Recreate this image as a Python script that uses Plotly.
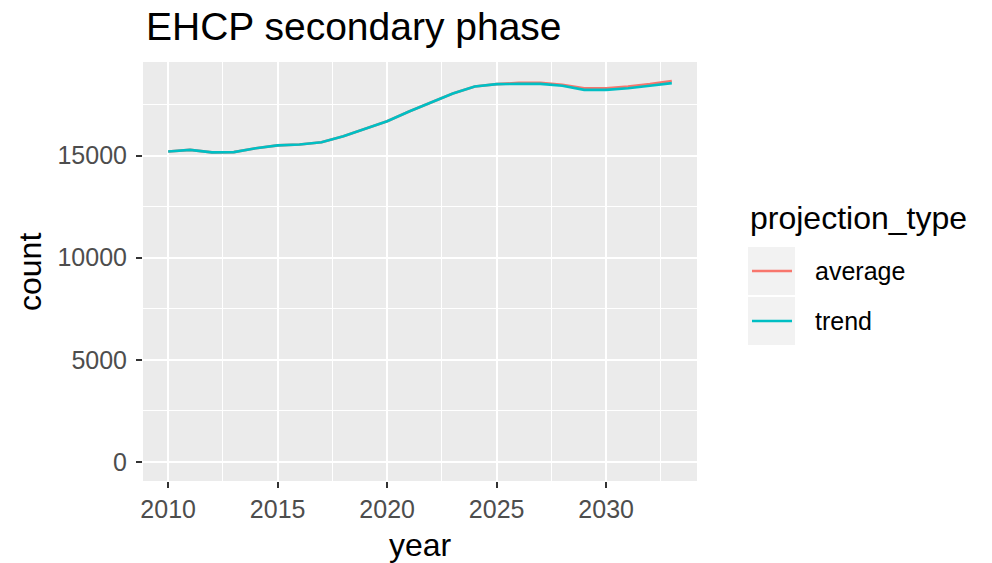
import plotly.graph_objects as go

# EHCP counts, secondary phase, by projection type
years = list(range(2010, 2034))
trend = [15200, 15280, 15160, 15170, 15360, 15500, 15540, 15650, 15950, 16310,
         16680, 17160, 17600, 18040, 18380, 18500, 18510, 18510, 18420, 18220,
         18220, 18300, 18420, 18550]
average = [15200, 15280, 15160, 15170, 15360, 15500, 15540, 15650, 15950, 16310,
           16680, 17160, 17600, 18040, 18380, 18500, 18560, 18570, 18470, 18290,
           18300, 18380, 18500, 18650]

series_names = ["average", "trend"]
series_values = [average, trend]
series_colors = ["#F8766D", "#00BFC4"]

x_ticks = [2010, 2015, 2020, 2025, 2030]
y_ticks = [0, 5000, 10000, 15000]

FONT = "Liberation Sans, Arial, sans-serif"
W, H = 992, 563
L, R, T, B = 143, 295, 62, 82

fig = go.Figure()
for name, vals, col in zip(series_names, series_values, series_colors):
    fig.add_trace(go.Scatter(x=years, y=vals, mode="lines", name=name,
                             line=dict(color=col, width=2.6), showlegend=False))

# ggplot-style 5% expansion of the data range
xspan = years[-1] - years[0]
xr = [years[0] - 0.05 * xspan, years[-1] + 0.05 * xspan]
ymax = max(max(v) for v in series_values)
yr = [-0.05 * ymax, ymax * 1.05]

axis_common = dict(
    showgrid=True, gridcolor="white", gridwidth=2,
    zeroline=False, showline=False,
    ticks="outside", ticklen=6, tickwidth=1.6, tickcolor="#333333",
    tickfont=dict(family=FONT, size=25, color="#4D4D4D"),
)
fig.update_xaxes(range=xr, tickvals=x_ticks, ticktext=[str(t) for t in x_ticks],
                 minor=dict(dtick=2.5, tick0=2007.5, gridcolor="white", gridwidth=1, ticks=""),
                 ticklabelstandoff=0, **axis_common)
fig.update_yaxes(range=yr, tickvals=y_ticks, ticktext=[str(t) for t in y_ticks],
                 minor=dict(dtick=2500, tick0=-2500, gridcolor="white", gridwidth=1, ticks=""),
                 ticklabelstandoff=4, **axis_common)

pw, ph = W - L - R, H - T - B
def px_x(px):
    return (px - L) / pw
def px_y(py):
    return 1 - (py - T) / ph

annotations = [
    dict(text="EHCP secondary phase", xref="paper", yref="paper",
         x=px_x(144), y=px_y(27), xanchor="left", yanchor="middle", showarrow=False,
         font=dict(family=FONT, size=39, color="black")),
    dict(text="year", xref="paper", yref="paper", x=0.5, y=px_y(545),
         xanchor="center", yanchor="middle", showarrow=False,
         font=dict(family=FONT, size=32, color="black")),
    dict(text="count", xref="paper", yref="paper", x=px_x(30), y=px_y(272),
         textangle=-90, xanchor="center", yanchor="middle", showarrow=False,
         font=dict(family=FONT, size=32, color="black")),
    dict(text="projection_type", xref="paper", yref="paper",
         x=px_x(748), y=px_y(218), xanchor="left", yanchor="middle", showarrow=False,
         font=dict(family=FONT, size=32, color="black")),
]

# legend keys: grey boxes with a line segment, label to the right
shapes = []
key_tops = [247, 297]
for i, (name, col) in enumerate(zip(series_names, series_colors)):
    top = key_tops[i]
    bot = top + 48
    mid = (top + bot) / 2
    shapes.append(dict(type="rect", xref="paper", yref="paper",
                       x0=px_x(748), x1=px_x(795), y0=px_y(bot), y1=px_y(top),
                       fillcolor="#F2F2F2", line=dict(width=0), layer="below"))
    shapes.append(dict(type="line", xref="paper", yref="paper",
                       x0=px_x(752), x1=px_x(792), y0=px_y(mid), y1=px_y(mid),
                       line=dict(color=col, width=2.6)))
    annotations.append(dict(text=name, xref="paper", yref="paper",
                            x=px_x(813), y=px_y(mid), xanchor="left", yanchor="middle",
                            showarrow=False, font=dict(family=FONT, size=25, color="black")))

fig.update_layout(
    width=W, height=H, margin=dict(l=L, r=R, t=T, b=B),
    paper_bgcolor="white", plot_bgcolor="#EBEBEB",
    annotations=annotations, shapes=shapes, showlegend=False,
)

fig.write_html("out.html")
